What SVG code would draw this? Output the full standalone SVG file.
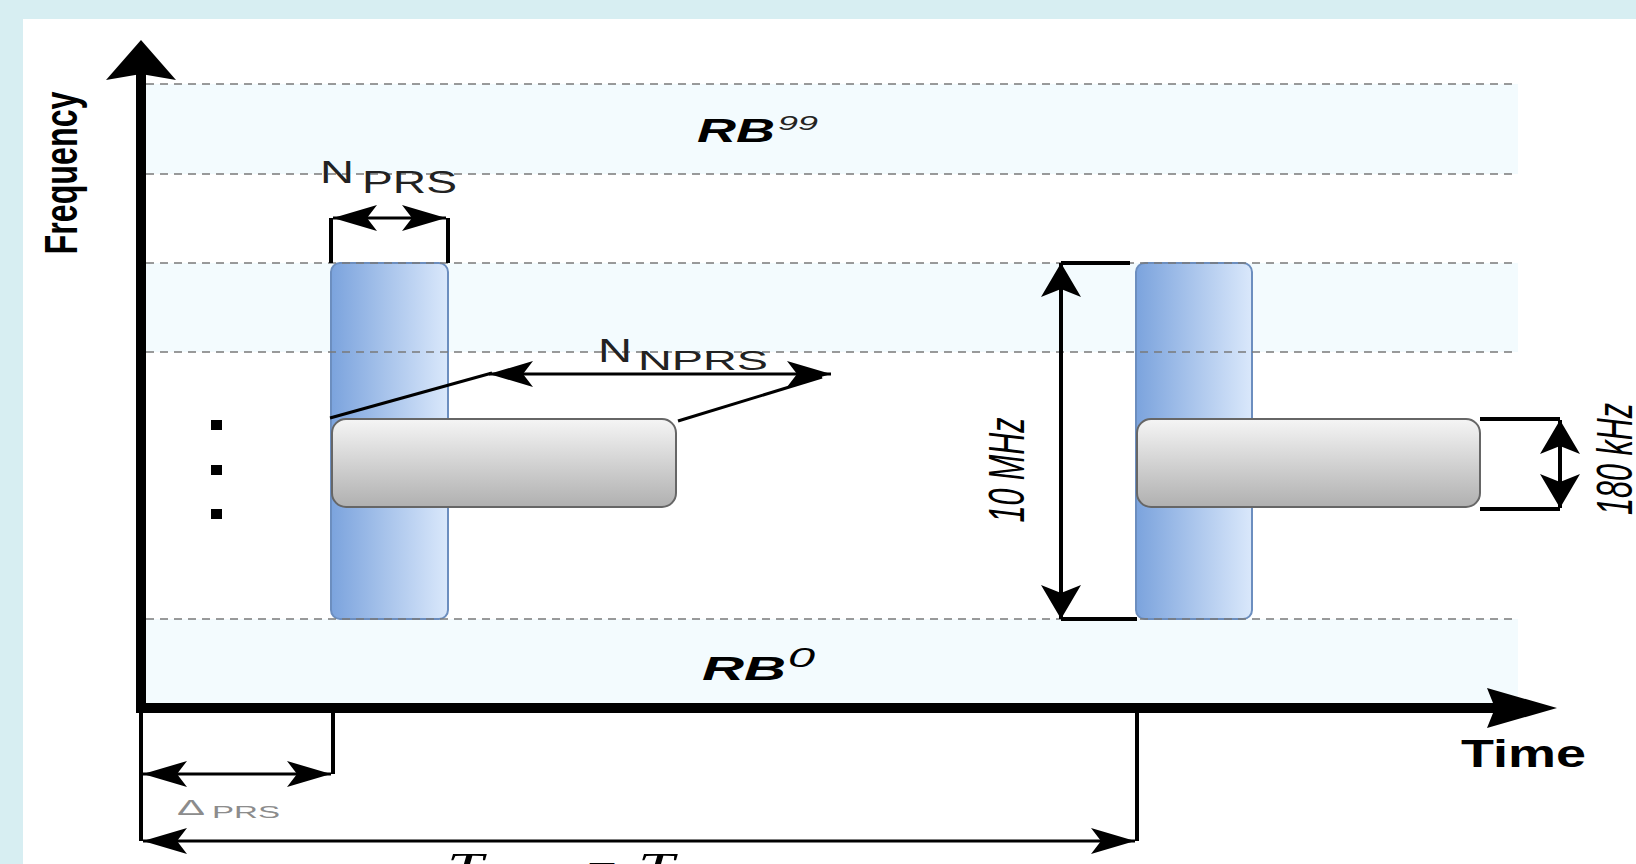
<svg xmlns="http://www.w3.org/2000/svg" width="1636" height="864" viewBox="0 0 1636 864">
  <defs>
    <style>
      .band { fill: #f3fbfe; }
      .grid { stroke: #7a7a7a; stroke-width: 1.5; stroke-dasharray: 8 6; fill: none; }
      .col { fill: url(#blueGrad); stroke: #6c8ebf; stroke-width: 2; }
      .bar { fill: url(#grayGrad); stroke: #666666; stroke-width: 2; }
      .axis { stroke: #000; stroke-width: 10; fill: none; }
      .dim { stroke: #000; stroke-width: 4; fill: none; }
      .dimh { stroke: #000; stroke-width: 3; fill: none; }
      .sans { font-family: "Liberation Sans", Arial, sans-serif; }
      .serif { font-family: "Liberation Serif", "Times New Roman", serif; }
    </style>
    <linearGradient id="blueGrad" x1="0" y1="0" x2="1" y2="0">
      <stop offset="0" stop-color="#7ba3dd"/>
      <stop offset="1" stop-color="#dae8fb"/>
    </linearGradient>
    <linearGradient id="grayGrad" x1="0" y1="0" x2="0" y2="1">
      <stop offset="0" stop-color="#f5f5f5"/>
      <stop offset="1" stop-color="#b0b0b0"/>
    </linearGradient>
    <marker id="ah" markerUnits="userSpaceOnUse" markerWidth="50" markerHeight="30" viewBox="-2 -15 50 30" refX="44" refY="0" orient="auto-start-reverse">
      <path d="M0,-13 L44,0 L0,13 L10,0 Z" fill="#000"/>
    </marker>
    <marker id="av" markerUnits="userSpaceOnUse" markerWidth="40" markerHeight="44" viewBox="-2 -22 40 44" refX="34" refY="0" orient="auto-start-reverse">
      <path d="M0,-20 L34,0 L0,20 L8,0 Z" fill="#000"/>
    </marker>
  </defs>

  <rect x="0" y="0" width="1636" height="864" fill="#d7eef2"/>
  <rect x="23" y="19" width="1613" height="845" fill="#ffffff"/>

  <g id="bands">
    <rect class="band" x="146" y="84" width="1372" height="90"/>
    <rect class="band" x="146" y="263" width="1372" height="89"/>
    <rect class="band" x="146" y="619" width="1372" height="85"/>
  </g>

  <g id="prs-column-1"><rect class="col" x="331" y="263" width="117" height="356" rx="9"/></g>
  <g id="prs-column-2"><rect class="col" x="1136" y="263" width="116" height="356" rx="9"/></g>
  <g id="nprs-bar-1"><rect class="bar" x="332" y="419" width="344" height="88" rx="14"/></g>
  <g id="nprs-bar-2"><rect class="bar" x="1137" y="419" width="343" height="88" rx="14"/></g>

  <g id="grid">
    <line class="grid" x1="146" y1="84" x2="1518" y2="84"/>
    <line class="grid" x1="146" y1="174" x2="1518" y2="174"/>
    <line class="grid" x1="146" y1="263" x2="1518" y2="263"/>
    <line class="grid" x1="146" y1="352" x2="1518" y2="352"/>
    <line class="grid" x1="146" y1="619" x2="1518" y2="619"/>
  </g>

  <g id="dots">
    <rect x="211" y="420" width="11" height="10" fill="#000"/>
    <rect x="211" y="465" width="11" height="10" fill="#000"/>
    <rect x="211" y="509" width="11" height="10" fill="#000"/>
  </g>

  <g id="axes">
    <line class="axis" x1="141" y1="713" x2="141" y2="74"/>
    <polygon points="141,40 176,80 141,74 106,80" fill="#000"/>
    <line class="axis" x1="136" y1="708" x2="1495" y2="708"/>
    <polygon points="1557,708 1487,728 1495,708 1487,688" fill="#000"/>
  </g>

  <g id="connectors">
    <!-- N_PRS bracket -->
    <path class="dim" d="M331,263 V218 M448,263 V218"/>
    <line class="dimh" x1="333" y1="218" x2="446" y2="218" marker-start="url(#ah)" marker-end="url(#ah)"/>
    <!-- N_NPRS -->
    <line class="dimh" x1="489" y1="374" x2="831" y2="374" marker-start="url(#ah)" marker-end="url(#ah)"/>
    <line class="dimh" x1="330" y1="418" x2="492" y2="373" stroke-width="3.5"/>
    <line class="dimh" x1="678" y1="421" x2="822" y2="377" stroke-width="3.5"/>
    <!-- 10 MHz -->
    <path class="dim" d="M1130,263 H1061 M1137,619 H1061"/>
    <line class="dim" x1="1061" y1="263" x2="1061" y2="619" marker-start="url(#av)" marker-end="url(#av)"/>
    <!-- 180 kHz -->
    <path class="dim" d="M1480,419 H1560 M1480,509 H1560"/>
    <line class="dim" x1="1560" y1="420" x2="1560" y2="508" marker-start="url(#av)" marker-end="url(#av)"/>
    <!-- Delta PRS -->
    <path class="dim" d="M333,712 V774 M141,712 V841 M1137,712 V841"/>
    <line class="dimh" x1="143" y1="774" x2="331" y2="774" marker-start="url(#ah)" marker-end="url(#ah)"/>
    <line class="dimh" x1="143" y1="841" x2="1135" y2="841" marker-start="url(#ah)" marker-end="url(#ah)"/>
  </g>

  <g id="labels">
    <text class="sans" transform="translate(77,173) rotate(-90) scale(1,1.45)" text-anchor="middle" font-size="32" font-weight="bold" textLength="163" lengthAdjust="spacingAndGlyphs">Frequency</text>
    <text class="sans" x="1461" y="767" font-size="38" font-weight="bold" textLength="125" lengthAdjust="spacingAndGlyphs">Time</text>

    <text class="sans" x="697" y="142" font-size="34" font-weight="bold" font-style="italic" textLength="78" lengthAdjust="spacingAndGlyphs">RB</text>
    <text class="sans" x="778" y="130" font-size="20" font-style="italic" fill="#222" textLength="40" lengthAdjust="spacingAndGlyphs">99</text>

    <text class="sans" x="702" y="680" font-size="34" font-weight="bold" font-style="italic" textLength="84" lengthAdjust="spacingAndGlyphs">RB</text>
    <text class="sans" x="788" y="667" font-size="28" font-style="italic" textLength="27" lengthAdjust="spacingAndGlyphs">0</text>

    <text class="sans" x="320" y="183" font-size="32" fill="#222" textLength="34" lengthAdjust="spacingAndGlyphs">N</text>
    <text class="sans" x="362" y="193" font-size="32" fill="#222" textLength="95" lengthAdjust="spacingAndGlyphs">PRS</text>

    <text class="sans" x="598" y="362" font-size="34" fill="#222" textLength="34" lengthAdjust="spacingAndGlyphs">N</text>
    <text class="sans" x="638" y="370" font-size="28" fill="#222" textLength="130" lengthAdjust="spacingAndGlyphs">NPRS</text>

    <text class="sans" transform="translate(1024,470) rotate(-90) scale(1,1.55)" text-anchor="middle" font-size="32" font-style="italic" textLength="105" lengthAdjust="spacingAndGlyphs">10 MHz</text>
    <text class="sans" transform="translate(1632,459) rotate(-90) scale(1,1.55)" text-anchor="middle" font-size="32" font-style="italic" textLength="112" lengthAdjust="spacingAndGlyphs">180 kHz</text>

    <text class="sans" x="177" y="815" font-size="22" fill="#8c8c8c" textLength="28" lengthAdjust="spacingAndGlyphs">Δ</text>
    <text class="sans" x="212" y="818" font-size="16" fill="#8c8c8c" textLength="68" lengthAdjust="spacingAndGlyphs">PRS</text>

    <text class="serif" x="447" y="880" font-size="40" font-style="italic" textLength="36" lengthAdjust="spacingAndGlyphs">T</text>
    <text class="serif" x="587" y="882" font-size="40" textLength="30" lengthAdjust="spacingAndGlyphs">=</text>
    <text class="serif" x="638" y="880" font-size="40" font-style="italic" textLength="36" lengthAdjust="spacingAndGlyphs">T</text>
  </g>
</svg>
